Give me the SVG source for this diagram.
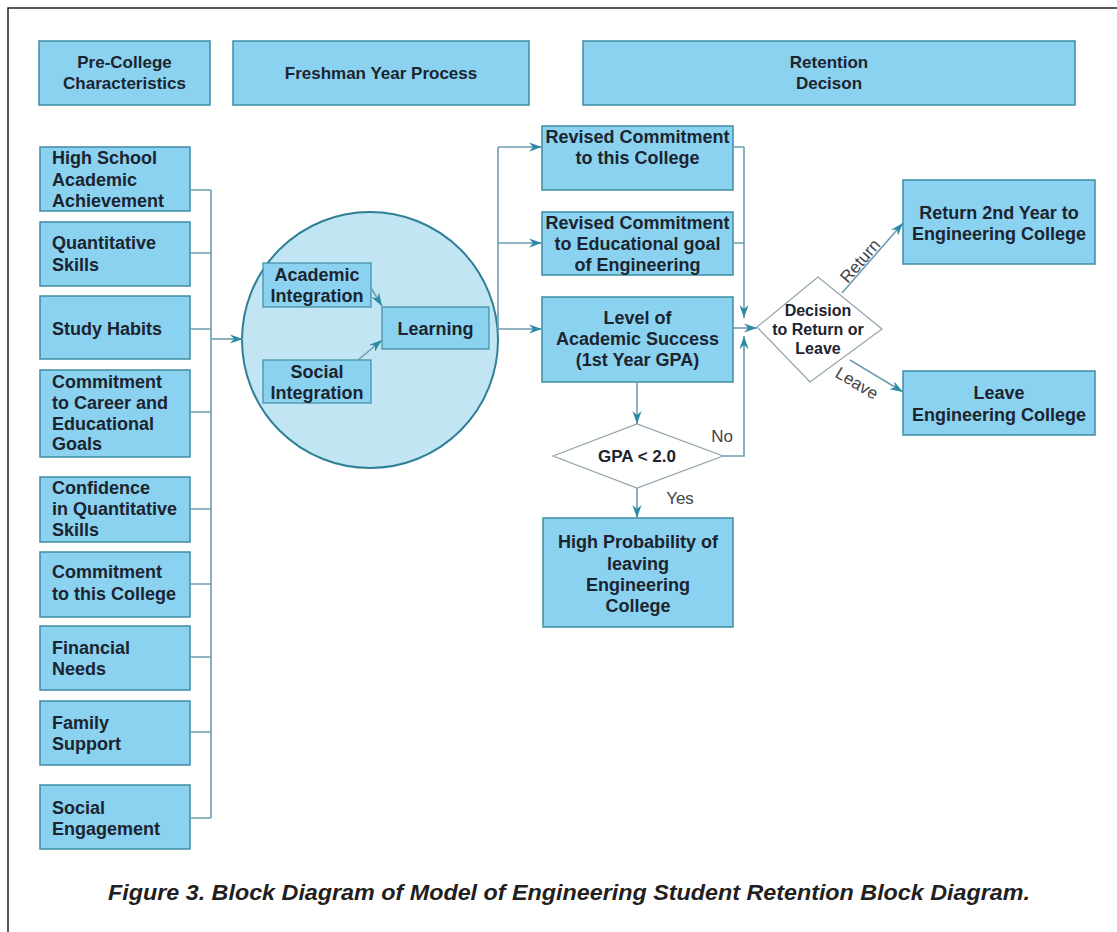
<svg xmlns="http://www.w3.org/2000/svg" width="1117" height="932" viewBox="0 0 1117 932">
<style>
.box{fill:#8ad2ef;stroke:#3f8ca3;stroke-width:1.5}
.ibox{fill:#8ad2ef;stroke:#3f8ca3;stroke-width:1.2}
.t{font-family:"Liberation Sans",Arial,sans-serif;font-weight:bold;font-size:18px;fill:#1c2430}
.h{font-family:"Liberation Sans",Arial,sans-serif;font-weight:bold;font-size:17px;fill:#1c2430;text-anchor:middle}
.c{text-anchor:middle}
.dia{fill:#ffffff;stroke:#8fa3ab;stroke-width:1.2}
.lbl{font-family:"Liberation Sans",Arial,sans-serif;font-size:17px;fill:#444;text-anchor:middle}
.con{fill:none;stroke:#6c9db1;stroke-width:1.6}
.arr{fill:none;stroke:#6c9db1;stroke-width:1.6;marker-end:url(#ah)}
</style>
<defs>
<marker id="ah" markerUnits="userSpaceOnUse" markerWidth="14" markerHeight="10" refX="13" refY="5" orient="auto">
<path d="M0,0.5 L13,5 L0,9.5 L4,5 z" fill="#2b8aa6"/>
</marker>
</defs>
<rect width="1117" height="932" fill="#ffffff"/>
<path d="M8,932 L8,8 L1117,8" fill="none" stroke="#222" stroke-width="1.5"/>

<g id="hdr-precollege"><rect class="box" x="39" y="41" width="171" height="64"/><text class="h" x="124.5" y="68">Pre-College</text><text class="h" x="124.5" y="89">Characteristics</text></g>
<g id="hdr-freshman"><rect class="box" x="233" y="41" width="296" height="64"/><text class="h" x="381" y="79">Freshman Year Process</text></g>
<g id="hdr-retention"><rect class="box" x="583" y="41" width="492" height="64"/><text class="h" x="829" y="68">Retention</text><text class="h" x="829" y="89">Decison</text></g>

<g id="n-highschool"><rect class="box" x="40" y="147" width="150" height="64"/><text class="t" x="52" y="164">High School</text><text class="t" x="52" y="186">Academic</text><text class="t" x="52" y="207">Achievement</text></g>
<g id="n-quant"><rect class="box" x="40" y="222" width="150" height="64"/><text class="t" x="52" y="249">Quantitative</text><text class="t" x="52" y="271">Skills</text></g>
<g id="n-study"><rect class="box" x="40" y="296" width="150" height="63"/><text class="t" x="52" y="335">Study Habits</text></g>
<g id="n-career"><rect class="box" x="40" y="370" width="150" height="87"/><text class="t" x="52" y="388">Commitment</text><text class="t" x="52" y="409">to Career and</text><text class="t" x="52" y="430">Educational</text><text class="t" x="52" y="450">Goals</text></g>
<g id="n-confidence"><rect class="box" x="40" y="477" width="150" height="65"/><text class="t" x="52" y="494">Confidence</text><text class="t" x="52" y="515">in Quantitative</text><text class="t" x="52" y="536">Skills</text></g>
<g id="n-commitcollege"><rect class="box" x="40" y="552" width="150" height="65"/><text class="t" x="52" y="578">Commitment</text><text class="t" x="52" y="600">to this College</text></g>
<g id="n-financial"><rect class="box" x="40" y="626" width="150" height="64"/><text class="t" x="52" y="654">Financial</text><text class="t" x="52" y="675">Needs</text></g>
<g id="n-family"><rect class="box" x="40" y="701" width="150" height="64"/><text class="t" x="52" y="729">Family</text><text class="t" x="52" y="750">Support</text></g>
<g id="n-social"><rect class="box" x="40" y="785" width="150" height="64"/><text class="t" x="52" y="814">Social</text><text class="t" x="52" y="835">Engagement</text></g>

<g id="n-process"><circle cx="370" cy="340" r="128" fill="#c2e5f4" stroke="#2f7f96" stroke-width="2"/></g>
<g id="n-academic"><rect class="ibox" x="263" y="263" width="108" height="44"/><text class="t c" x="317" y="281">Academic</text><text class="t c" x="317" y="302">Integration</text></g>
<g id="n-socialint"><rect class="ibox" x="263" y="360" width="108" height="43"/><text class="t c" x="317" y="378">Social</text><text class="t c" x="317" y="399">Integration</text></g>
<g id="n-learning"><rect class="ibox" x="382" y="307" width="107" height="42"/><text class="t c" x="435.5" y="335">Learning</text></g>

<g id="n-revcollege"><rect class="box" x="542" y="126" width="191" height="64"/><text class="t c" x="637.5" y="143">Revised Commitment</text><text class="t c" x="637.5" y="164">to this College</text></g>
<g id="n-revgoal"><rect class="box" x="542" y="212" width="191" height="63"/><text class="t c" x="637.5" y="229">Revised Commitment</text><text class="t c" x="637.5" y="250">to Educational goal</text><text class="t c" x="637.5" y="271">of Engineering</text></g>
<g id="n-success"><rect class="box" x="542" y="297" width="191" height="85"/><text class="t c" x="637.5" y="324">Level of</text><text class="t c" x="637.5" y="345">Academic Success</text><text class="t c" x="637.5" y="366">(1st Year GPA)</text></g>

<g id="n-gpa"><polygon class="dia" points="553,456 637,424 723,456 637,488"/><text class="t c" x="637" y="462" style="font-size:17px">GPA &lt; 2.0</text></g>
<g id="n-highprob"><rect class="box" x="543" y="518" width="190" height="109"/><text class="t c" x="638" y="548">High Probability of</text><text class="t c" x="638" y="570">leaving</text><text class="t c" x="638" y="591">Engineering</text><text class="t c" x="638" y="612">College</text></g>

<g id="n-decision"><polygon class="dia" points="757,327 818,277 882,329 810,382"/><text class="t c" x="818" y="316" style="font-size:16px">Decision</text><text class="t c" x="818" y="335" style="font-size:16px">to Return or</text><text class="t c" x="818" y="354" style="font-size:16px">Leave</text></g>
<g id="n-return"><rect class="box" x="903" y="180" width="192" height="84"/><text class="t c" x="999" y="219">Return 2nd Year to</text><text class="t c" x="999" y="240">Engineering College</text></g>
<g id="n-leave"><rect class="box" x="903" y="371" width="192" height="64"/><text class="t c" x="999" y="399">Leave</text><text class="t c" x="999" y="421">Engineering College</text></g>

<g id="connectors">
<path class="con" d="M190,190 H211 M190,253 H211 M190,329 H211 M190,412 H211 M190,509 H211 M190,584 H211 M190,657 H211 M190,732 H211 M190,818 H211 M211,190 V818"/>
<path class="arr" d="M211,339 H243"/>
<path class="arr" d="M371,288 L382,306"/>
<path class="arr" d="M358,360 L382,340"/>
<path class="con" d="M498,147 V329"/>
<path class="arr" d="M498,147 H542"/>
<path class="arr" d="M498,243 H542"/>
<path class="arr" d="M498,329 H542"/>
<path class="con" d="M733,147 H744 M733,243 H744"/>
<path class="arr" d="M744,147 V318"/>
<path class="arr" d="M733,328 H757"/>
<path class="arr" d="M723,456 H744 V336"/>
<path class="arr" d="M637,382 V424"/>
<path class="arr" d="M637,488 V518"/>
<path class="arr" d="M842,293 L903,223"/>
<path class="arr" d="M850,360 L903,392"/>
<text class="lbl" transform="translate(866,266) rotate(-49)" y="-2">Return</text>
<text class="lbl" transform="translate(857,383) rotate(31)" y="6">Leave</text>
<text class="lbl" x="722" y="442">No</text>
<text class="lbl" x="680" y="504">Yes</text>
</g>

<text x="108" y="900" font-family="'Liberation Sans',Arial,sans-serif" font-weight="bold" font-style="italic" font-size="22" fill="#231f20" textLength="922" lengthAdjust="spacingAndGlyphs">Figure 3. Block Diagram of Model of Engineering Student Retention Block Diagram.</text>
</svg>
